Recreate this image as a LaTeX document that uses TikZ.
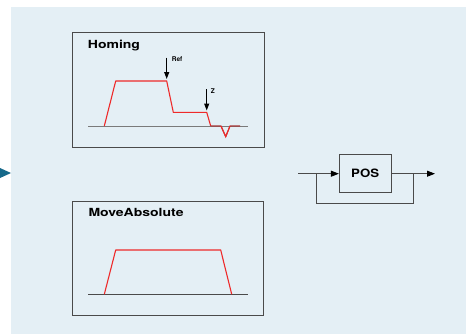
\documentclass[tikz,border=0pt]{standalone}
\usepackage{fontspec}
\setmainfont{TeX Gyre Heros}
\usetikzlibrary{arrows.meta,calc,positioning}
\definecolor{PanelBlue}{HTML}{E4EFF5}
\definecolor{FrameGray}{HTML}{4A4A4A}
\definecolor{AxisGray}{HTML}{7A7A7A}
\definecolor{TraceRed}{HTML}{EE2A2A}
\definecolor{TraceDark}{HTML}{A83838}
\definecolor{Teal}{HTML}{16698A}
\newcommand{\wide}[2]{\scalebox{#1}[1]{#2}}

\begin{document}
\begin{tikzpicture}[x=1pt,y=-1pt,
        frame/.style={draw=FrameGray,line width=0.9pt,inner sep=0pt},
        title/.style={anchor=base west,inner sep=0pt,font=\fontsize{11.2}{12}\selectfont\bfseries},
        tag/.style={anchor=base west,inner sep=0pt,font=\fontsize{6.5}{7}\selectfont\bfseries},
        block/.style={draw=FrameGray,line width=0.9pt,minimum width=51.7pt,minimum height=38pt,
                      font=\fontsize{11.5}{13}\selectfont\bfseries},
        trace/.style={TraceRed,line width=1.1pt,line join=round},
        pointer/.style={-{Triangle[length=7pt,width=5pt]},line width=1.1pt,black},
        wire/.style={FrameGray,line width=0.9pt},
        flow/.style={wire,-{Triangle[length=8pt,width=6pt,color=black]}}]
      \useasboundingbox (0,0) rectangle (466,335);
      \fill[PanelBlue] (11,7) rectangle (466,334);
      \fill[Teal] (0,168) -- (11,173) -- (0,178) -- cycle;

      % Homing
      \node[frame,minimum width=191.7pt,minimum height=115.4pt] (hbox) at (168.2,90) {};
      \node[title] (htitle) at (87.7,48.3) {\wide{1.25}{Homing}};
      \draw[AxisGray,line width=0.9pt] (88,126) -- (248,126);
      \draw[trace] (104.3,126) -- (115.7,81) -- (166.7,81) -- (173.3,112.3)
        -- (206.7,112.3) -- (210.7,126);
      \draw[TraceDark,line width=1.1pt,line join=round] (210.7,126) -- (221,126)
        -- (225.7,136.7) -- (230,126) -- (240,126);
      \draw[TraceRed,line width=1.1pt] (221,126) -- (225.7,136.7) -- (230,126);
      \coordinate (reftop) at (166.7,57.7);
      \coordinate (refend) at (166.7,79);
      \coordinate (ztop) at (206.7,89);
      \coordinate (zend) at (206.7,110.5);
      \draw[pointer] (reftop) -- (refend);
      \draw[pointer] (ztop) -- (zend);
      \node[tag] (ref) at (171.7,61) {Ref};
      \node[tag] (z) at (210.7,93.3) {Z};

      % MoveAbsolute
      \node[frame,minimum width=191pt,minimum height=113.6pt] (mbox) at (167.8,258.5) {};
      \node[title] (mtitle) at (88.3,216.7) {\wide{1.25}{MoveAbsolute}};
      \draw[FrameGray,line width=0.9pt] (88,294.3) -- (248,294.3);
      \draw[trace] (104.3,294.3) -- (115.7,250) -- (220.7,250) -- (231.7,294.3);

      % POS block
      \node[block] (pos) at (365.2,173.7) {\wide{1.15}{POS}};
      \coordinate (in) at (298.3,173.7);
      \coordinate (split) at (316,173.7);
      \coordinate (join) at (413.3,173.7);
      \coordinate (out) at (435,173.7);
      \draw[flow] (in) -- (pos);
      \draw[flow] (pos) -- (out);
      \draw[wire] (split) -- ++(0,29.6) -| (join);
    \end{tikzpicture}
\end{document}
